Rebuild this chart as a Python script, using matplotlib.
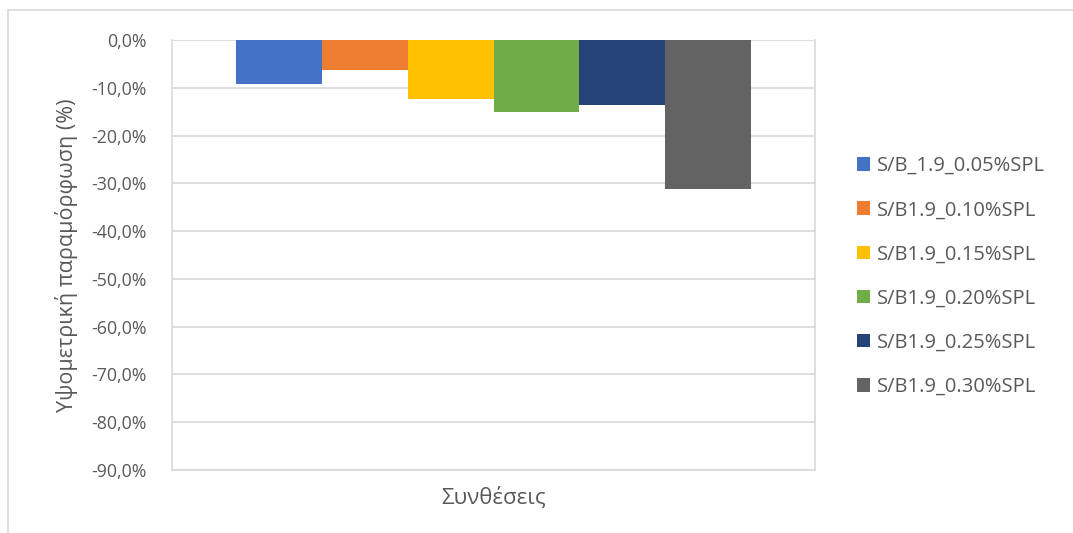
import matplotlib
matplotlib.use("Agg")
import matplotlib.pyplot as plt
from matplotlib.lines import Line2D
from matplotlib.ticker import FuncFormatter
import numpy as np

series = [
    "S/B_1.9_0.05%SPL",
    "S/B1.9_0.10%SPL",
    "S/B1.9_0.15%SPL",
    "S/B1.9_0.20%SPL",
    "S/B1.9_0.25%SPL",
    "S/B1.9_0.30%SPL",
]
values = [-9.3, -6.2, -12.4, -15.1, -13.7, -31.2]
colors = ["#4472C4", "#ED7D31", "#FFC000", "#70AD47", "#264478", "#636363"]
y_ticks = [0, -10, -20, -30, -40, -50, -60, -70, -80, -90]

text_color = "#595959"
grid_color = "#D9D9D9"
plt.rcParams["font.family"] = ["Open Sans", "DejaVu Sans"]

W, H = 1073, 533
fig = plt.figure(figsize=(W / 100, H / 100), dpi=100)
left, right, top, bottom = 172, 815, 40, 470
ax = fig.add_axes([left / W, 1 - bottom / H, (right - left) / W, (bottom - top) / H])

n = len(series)
group_width = 0.8
bw = group_width / n
xs = -group_width / 2 + bw / 2 + np.arange(n) * bw
for x, v, c, name in zip(xs, values, colors, series):
    ax.bar(x, v, width=bw, color=c, label=name, zorder=3)

ax.set_xlim(-0.5, 0.5)
ax.set_ylim(-90, 0)
ax.set_yticks(y_ticks)
ax.yaxis.set_major_formatter(FuncFormatter(lambda v, p: f"{v:.1f}%".replace(".", ",")))
ax.set_xticks([])
ax.grid(axis="y", color=grid_color, linewidth=1.2, zorder=0)
for side in ["left", "right", "bottom"]:
    ax.spines[side].set_color(grid_color)
    ax.spines[side].set_linewidth(1.2)
ax.spines["top"].set_visible(False)
ax.tick_params(axis="y", length=0, labelsize=12.8, labelcolor=text_color, pad=18)

ax.set_ylabel("Υψομετρική παραμόρφωση (%)", fontsize=15.5, color=text_color, labelpad=10)
ax.set_xlabel("Συνθέσεις", fontsize=16, color=text_color, labelpad=12)

ax.legend(loc="center left", bbox_to_anchor=(1.037, 0.45), frameon=False,
          fontsize=14.5, labelcolor=text_color, handlelength=0.65, handleheight=0.65,
          handletextpad=0.35, labelspacing=1.2)

# outer chart frame
fig.add_artist(Line2D([8 / W, 1], [1 - 10 / H, 1 - 10 / H], color=grid_color, lw=1.2))
fig.add_artist(Line2D([8 / W, 8 / W], [0, 1 - 10 / H], color=grid_color, lw=1.2))

fig.savefig("out.png", dpi=100)
